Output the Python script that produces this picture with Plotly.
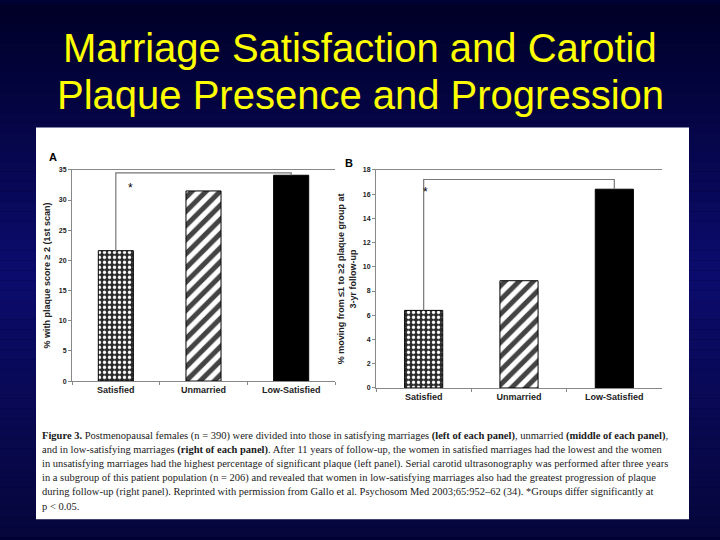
import plotly.graph_objects as go

categories = ["Satisfied", "Unmarried", "Low-Satisfied"]
plaque_presence = [21.6, 31.5, 34.1]      # panel A
plaque_progression = [6.4, 8.85, 16.4]    # panel B
bracket_a = 34.5
bracket_b = 17.2
star_a = 32.0
star_b = 16.2

title_lines = ["Marriage Satisfaction and Carotid", "Plaque Presence and Progression"]
caption_lines = [
    "<b>Figure 3.</b> Postmenopausal females (n = 390) were divided into those in satisfying marriages <b>(left of each panel)</b>, unmarried <b>(middle of each panel)</b>,",
    "and in low-satisfying marriages <b>(right of each panel)</b>. After 11 years of follow-up, the women in satisfied marriages had the lowest and the women",
    "in unsatisfying marriages had the highest percentage of significant plaque (left panel). Serial carotid ultrasonography was performed after three years",
    "in a subgroup of this patient population (n = 206) and revealed that women in low-satisfying marriages also had the greatest progression of plaque",
    "during follow-up (right panel). Reprinted with permission from Gallo et al. Psychosom Med 2003;65:952\u201362 (34). *Groups differ significantly at",
    "p &lt; 0.05.",
]

W, H = 720, 540
def px(x): return x / W
def py(y): return 1 - y / H

fig = go.Figure()

bar_colors = ["#2a2a2a", "white", "black"]
pat_shapes = [".", "/", ""]
pat_fg = ["white", "black", "black"]
pat_size = [5, 10, 8]
pat_solid = [0.35, 0.5, 0.5]

for xa, ya, vals in [("x", "y", plaque_presence), ("x2", "y2", plaque_progression)]:
    fig.add_trace(go.Bar(
        x=categories, y=vals, xaxis=xa, yaxis=ya, width=0.4,
        marker=dict(color=bar_colors, pattern=dict(
            shape=pat_shapes, fgcolor=pat_fg, size=pat_size, solidity=pat_solid,
            fgopacity=1, fillmode="overlay"),
            line=dict(color="black", width=1)),
        showlegend=False, hoverinfo="skip"))

# significance brackets
fig.add_trace(go.Scatter(
    x=[categories[0], categories[0], categories[2], categories[2]],
    y=[plaque_presence[0], bracket_a, bracket_a, plaque_presence[2]],
    xaxis="x", yaxis="y", mode="lines", line=dict(color="#777", width=1.2),
    showlegend=False, hoverinfo="skip"))
fig.add_trace(go.Scatter(
    x=[categories[0], categories[0], categories[2], categories[2]],
    y=[plaque_progression[0], bracket_b, bracket_b, plaque_progression[2]],
    xaxis="x2", yaxis="y2", mode="lines", line=dict(color="#777", width=1.2),
    showlegend=False, hoverinfo="skip"))

# background gradient bands
shapes = []
top = (0, 0, 40); mid = (12, 12, 110); bot = (6, 6, 60)
n = 54
for i in range(n):
    t = (i + 0.5) / n
    if t < 0.5:
        a, b, f = top, mid, t / 0.5
    else:
        a, b, f = mid, bot, (t - 0.5) / 0.5
    c = tuple(int(a[k] + (b[k] - a[k]) * f) for k in range(3))
    shapes.append(dict(type="rect", xref="paper", yref="paper", x0=0, x1=1,
                       y0=1 - (i + 1) / n, y1=1 - i / n, fillcolor="rgb(%d,%d,%d)" % c,
                       line=dict(width=0), layer="below"))
shapes.append(dict(type="rect", xref="paper", yref="paper", x0=px(36), x1=px(689),
                   y0=py(522), y1=py(125), fillcolor="white", line=dict(width=0), layer="below"))

axis_font = dict(family="Liberation Sans", size=7, color="#222", weight="bold")
cat_font = dict(family="Liberation Sans", size=9, color="#222", weight="bold")

common_x = dict(type="category", showline=True, linecolor="#888", linewidth=1, mirror=True,
                ticks="outside", ticklen=3, tickcolor="#888", tickson="boundaries",
                tickfont=cat_font, showgrid=False, zeroline=False, fixedrange=True)
common_y = dict(showline=True, linecolor="#888", linewidth=1, ticks="outside", ticklen=3,
                tickcolor="#888", tickfont=axis_font, showgrid=False, zeroline=False)

annotations = []
for i, line in enumerate(title_lines):
    annotations.append(dict(text=line, xref="paper", yref="paper", x=0.5, y=py([45, 92][i]),
                            xanchor="center", yanchor="middle", showarrow=False,
                            font=dict(family="Liberation Sans", size=40, color="#FFFF00")))
for i, line in enumerate(caption_lines):
    annotations.append(dict(text=line, xref="paper", yref="paper", x=px(40), y=py(438 + i * 14.2),
                            xanchor="left", yanchor="middle", showarrow=False, align="left",
                            font=dict(family="Liberation Serif", size=10.5, color="#1a1a1a")))
annotations += [
    dict(text="<b>A</b>", xref="paper", yref="paper", x=px(47), y=py(147), showarrow=False,
         font=dict(family="Liberation Sans", size=11, color="black")),
    dict(text="<b>B</b>", xref="paper", yref="paper", x=px(349), y=py(153), showarrow=False,
         font=dict(family="Liberation Sans", size=11, color="black")),
    dict(text="*", xref="x", yref="y", x=categories[0], y=star_a, xshift=15, showarrow=False,
         font=dict(family="Liberation Sans", size=12, color="black")),
    dict(text="*", xref="x2", yref="y2", x=categories[0], y=star_b, xshift=2, showarrow=False,
         font=dict(family="Liberation Sans", size=12, color="black")),
]

fig.update_layout(
    width=W, height=H, margin=dict(l=0, r=0, t=0, b=0),
    paper_bgcolor="#000033", plot_bgcolor="rgba(0,0,0,0)",
    shapes=shapes, annotations=annotations, bargap=0.6,
    xaxis=dict(domain=[px(72), px(335)], anchor="y", **common_x),
    yaxis=dict(domain=[py(382), py(168)], anchor="x", range=[0, 35], dtick=5,
               title=dict(text="<b>% with plaque score \u2265 2 (1st scan)</b>", standoff=6,
                          font=dict(family="Liberation Sans", size=9, color="#222")), **common_y),
    xaxis2=dict(domain=[px(376), px(662)], anchor="y2", **common_x),
    yaxis2=dict(domain=[py(389), py(168)], anchor="x2", range=[0, 18], dtick=2,
                title=dict(text="<b>% moving from \u22641 to \u22652 plaque group at<br>3-yr follow-up</b>", standoff=4,
                           font=dict(family="Liberation Sans", size=9, color="#222")), **common_y),
)

fig.write_html("out.html", config={"displayModeBar": False},
               post_script="document.body.style.margin='0';document.body.style.overflow='hidden';")
